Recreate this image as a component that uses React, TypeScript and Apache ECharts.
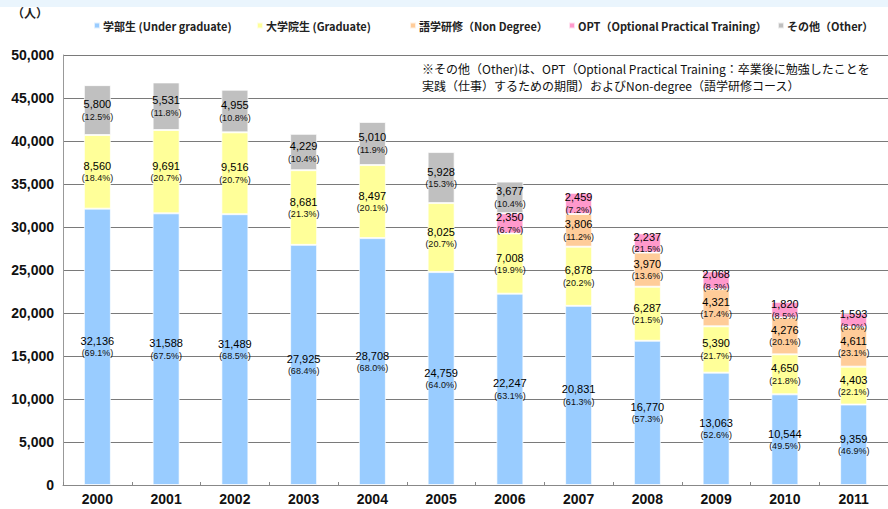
import React, { useEffect, useRef } from "react";
import * as echarts from "echarts";

const years = ["2000", "2001", "2002", "2003", "2004", "2005", "2006", "2007", "2008", "2009", "2010", "2011"];
const yTicks = [0, 5000, 10000, 15000, 20000, 25000, 30000, 35000, 40000, 45000, 50000];

const undergrad = [32136, 31588, 31489, 27925, 28708, 24759, 22247, 20831, 16770, 13063, 10544, 9359];
const undergradPct = [69.1, 67.5, 68.5, 68.4, 68.0, 64.0, 63.1, 61.3, 57.3, 52.6, 49.5, 46.9];

const graduate = [8560, 9691, 9516, 8681, 8497, 8025, 7008, 6878, 6287, 5390, 4650, 4403];
const graduatePct = [18.4, 20.7, 20.7, 21.3, 20.1, 20.7, 19.9, 20.2, 21.5, 21.7, 21.8, 22.1];

const nonDegree = [null, null, null, null, null, null, null, 3806, 3970, 4321, 4276, 4611];
const nonDegreePct = [null, null, null, null, null, null, null, 11.2, 13.6, 17.4, 20.1, 23.1];

const opt = [null, null, null, null, null, null, 2350, 2459, 2237, 2068, 1820, 1593];
const optPct = [null, null, null, null, null, null, 6.7, 7.2, 21.5, 8.3, 8.5, 8.0];

const other = [5800, 5531, 4955, 4229, 5010, 5928, 3677, null, null, null, null, null];
const otherPct = [12.5, 11.8, 10.8, 10.4, 11.9, 15.3, 10.4, null, null, null, null, null];

const seriesNames = [
  "学部生 (Under graduate)",
  "大学院生 (Graduate)",
  "語学研修（Non Degree）",
  "OPT（Optional Practical Training）",
  "その他（Other）",
];
const seriesColors = ["#99CCFF", "#FFFF99", "#FFCC99", "#FF99CC", "#C0C0C0"];
const legendLefts = [88, 251, 404, 563, 772];

const noteLine1 = "※その他（Other)は、OPT（Optional Practical Training：卒業後に勉強したことを";
const noteLine2 = "実践（仕事）するための期間）およびNon-degree（語学研修コース）";
const unitLabel = "（人）";

const FONT = "'Liberation Sans', 'Noto Sans CJK JP', sans-serif";
const fmt = (v: number) => v.toLocaleString("en-US");

export default function App() {
  const ref = useRef<HTMLDivElement>(null);
  useEffect(() => {
    if (!ref.current) return;
    const chart = echarts.init(ref.current, null, { renderer: "svg" });
    const valueSets = [undergrad, graduate, nonDegree, opt, other];
    const pctSets = [undergradPct, graduatePct, nonDegreePct, optPct, otherPct];
    const series = valueSets.map((vals, i) => ({
      name: seriesNames[i],
      type: "bar",
      stack: "total",
      barWidth: 27,
      data: vals,
      itemStyle: { color: seriesColors[i], borderColor: "rgba(255,255,255,0.7)", borderWidth: 1 },
      label: {
        show: true,
        position: "inside",
        fontFamily: FONT,
        formatter: (p: any) => {
          if (p.value == null) return "";
          const pc = pctSets[i][p.dataIndex];
          return `{v|${fmt(p.value)}}\n{p|(${(pc as number).toFixed(1)}%)}`;
        },
        rich: {
          v: { fontSize: 11, color: "#000", lineHeight: 13, fontFamily: FONT },
          p: { fontSize: 9, color: "#111", lineHeight: 12, fontFamily: FONT },
        },
      },
    }));
    const legends = seriesNames.map((n, i) => ({
      data: [n],
      left: legendLefts[i],
      top: 15,
      itemWidth: 6,
      itemHeight: 6,
      itemGap: 4,
      icon: "rect",
      textStyle: {
        fontSize: 11,
        fontWeight: "bold",
        color: "#222",
        fontFamily: "'Noto Sans CJK JP', sans-serif",
        padding: [0, 0, 0, -2],
      },
    }));
    chart.setOption({
      animation: false,
      backgroundColor: "#ffffff",
      grid: { left: 63, top: 55, width: 829, bottom: 24, containLabel: false },
      legend: legends,
      xAxis: {
        type: "category",
        data: years,
        axisLine: { lineStyle: { color: "#888", width: 1 } },
        axisTick: { show: true, inside: true, length: 3, lineStyle: { color: "#888" } },
        axisLabel: { fontSize: 14, fontWeight: "bold", color: "#111", margin: 7, fontFamily: FONT },
      },
      yAxis: {
        type: "value",
        min: yTicks[0],
        max: yTicks[yTicks.length - 1],
        interval: yTicks[1] - yTicks[0],
        axisLine: { show: true, lineStyle: { color: "#999", width: 1 } },
        axisTick: { show: false },
        splitLine: { lineStyle: { color: "#7a7a7a", width: 1 } },
        axisLabel: {
          fontSize: 14,
          fontWeight: "bold",
          color: "#111",
          margin: 9,
          fontFamily: FONT,
          formatter: (v: number) => fmt(v),
        },
      },
      graphic: [
        { type: "rect", shape: { x: 0, y: 0, width: 888, height: 7 }, style: { fill: "#EAF5FD" }, z: -1 },
        {
          type: "text",
          left: 12,
          top: 6,
          style: { text: unitLabel, fill: "#222", font: "bold 12px 'Noto Sans CJK JP'" },
        },
        {
          type: "text",
          left: 422,
          top: 62,
          style: { text: noteLine1, fill: "#111", font: "12px 'Noto Sans CJK JP', sans-serif" },
          z: 100,
        },
        {
          type: "text",
          left: 422,
          top: 79,
          style: { text: noteLine2, fill: "#111", font: "12px 'Noto Sans CJK JP', sans-serif" },
          z: 100,
        },
      ],
      series,
    });
    return () => chart.dispose();
  }, []);
  return <div ref={ref} style={{ position: "fixed", left: 0, top: 0, width: 888, height: 509 }} />;
}
